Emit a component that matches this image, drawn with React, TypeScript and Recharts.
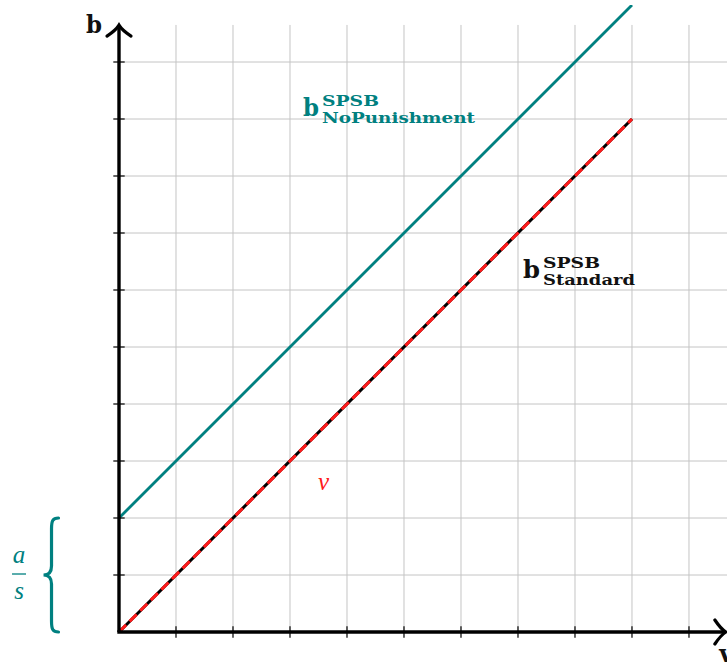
import React from 'react';
import { LineChart, Line, XAxis, YAxis, ReferenceLine, ReferenceDot } from 'recharts';

// ---- data ----
const valuationV = [0, 9];
const bidStandard = [0, 9];
const bidNoPunishment = [2, 11];
const tickValues = [1, 2, 3, 4, 5, 6, 7, 8, 9, 10];
const gapAOverS = [0, 2];

const X_MAX = 10.667;
const Y_MAX = 11;
const GRID_TOP = 10.65;
const AXIS_END = 10.63;

const TEAL = '#008080';
const RED = '#ff1a1a';
const GRID = '#c4c4c4';

const data = valuationV.map((v, i) => ({ v, standard: bidStandard[i], truthful: bidStandard[i], noPunish: bidNoPunishment[i] }));

const boldFont = '"DejaVu Serif", serif';
const italFont = '"Liberation Serif", serif';

const YAxisShape = (p: any) => {
  const { x1, y1, x2, y2 } = p;
  return (
    <g>
      <line x1={x1} y1={y1} x2={x2} y2={y2} stroke="#000" strokeWidth={3.4} />
      <path d={`M ${x2 - 12} ${y2 + 10} Q ${x2 - 3} ${y2 + 4} ${x2} ${y2 - 1} Q ${x2 + 3} ${y2 + 4} ${x2 + 12} ${y2 + 10}`} fill="none" stroke="#000" strokeWidth={3.2} strokeLinecap="round" />
    </g>
  );
};

const XAxisShape = (p: any) => {
  const { x1, y1, x2, y2 } = p;
  return (
    <g>
      <line x1={x1 - 1.7} y1={y1} x2={x2} y2={y2} stroke="#000" strokeWidth={3.4} />
      <path d={`M ${x2 - 10} ${y2 - 12} Q ${x2 - 4} ${y2 - 3} ${x2 + 1} ${y2} Q ${x2 - 4} ${y2 + 3} ${x2 - 10} ${y2 + 12}`} fill="none" stroke="#000" strokeWidth={3.2} strokeLinecap="round" />
    </g>
  );
};

const BraceShape = (p: any) => {
  const { x1, y1, y2 } = p;
  const x = x1;
  const top = Math.min(y1, y2);
  const bot = Math.max(y1, y2);
  const mid = (top + bot) / 2;
  const d = `M ${x + 7} ${top} C ${x + 1} ${top}, ${x} ${top + 3}, ${x} ${top + 11} L ${x} ${mid - 9} C ${x} ${mid - 3}, ${x - 3} ${mid}, ${x - 8} ${mid} C ${x - 3} ${mid}, ${x} ${mid + 3}, ${x} ${mid + 9} L ${x} ${bot - 11} C ${x} ${bot - 3}, ${x + 1} ${bot}, ${x + 7} ${bot}`;
  return <path d={d} fill="none" stroke={TEAL} strokeWidth={3.2} strokeLinecap="round" />;
};

const NoPunishLabel = (p: any) => {
  const { cx, cy } = p;
  return (
    <g fontFamily={boldFont} fontWeight="bold" fill={TEAL}>
      <text x={cx} y={cy} fontSize={24} textLength={16} lengthAdjust="spacingAndGlyphs">b</text>
      <text x={cx + 19} y={cy - 10} fontSize={15} textLength={57} lengthAdjust="spacingAndGlyphs">SPSB</text>
      <text x={cx + 19} y={cy + 7} fontSize={15} textLength={153} lengthAdjust="spacingAndGlyphs">NoPunishment</text>
    </g>
  );
};

const StandardLabel = (p: any) => {
  const { cx, cy } = p;
  return (
    <g fontFamily={boldFont} fontWeight="bold" fill="#111">
      <text x={cx} y={cy} fontSize={24} textLength={17} lengthAdjust="spacingAndGlyphs">b</text>
      <text x={cx + 20} y={cy - 10} fontSize={15} textLength={57} lengthAdjust="spacingAndGlyphs">SPSB</text>
      <text x={cx + 20} y={cy + 7} fontSize={15} textLength={92} lengthAdjust="spacingAndGlyphs">Standard</text>
    </g>
  );
};

const TextAt = (txt: string, opts: any) => (p: any) => (
  <text x={p.cx} y={p.cy} {...opts}>{txt}</text>
);

const FracLabel = (p: any) => {
  const { cx, cy } = p;
  return (
    <g fontFamily={italFont} fontStyle="italic" fill={TEAL} fontSize={25} textAnchor="middle">
      <text x={cx} y={cy - 11}>a</text>
      <line x1={cx - 7} y1={cy} x2={cx + 7} y2={cy} stroke={TEAL} strokeWidth={1.3} />
      <text x={cx} y={cy + 25}>s</text>
    </g>
  );
};

export default function App() {
  return (
    <div style={{ position: 'absolute', left: 0, top: 0, width: 727, height: 663, background: '#fff' }}>
      <LineChart width={727} height={663} data={data} margin={{ top: 5, right: 0, bottom: 31, left: 119 }}>
        <XAxis dataKey="v" type="number" domain={[0, X_MAX]} hide allowDataOverflow />
        <YAxis type="number" domain={[0, Y_MAX]} hide allowDataOverflow />
        {tickValues.map((k) => (
          <ReferenceLine key={'gv' + k} segment={[{ x: k, y: 0 }, { x: k, y: GRID_TOP }]} stroke={GRID} strokeWidth={1} ifOverflow="visible" />
        ))}
        {tickValues.map((k) => (
          <ReferenceLine key={'gh' + k} segment={[{ x: 0, y: k }, { x: X_MAX, y: k }]} stroke={GRID} strokeWidth={1} ifOverflow="visible" />
        ))}
        <Line dataKey="noPunish" type="linear" stroke={TEAL} strokeWidth={2.8} dot={false} isAnimationActive={false} />
        <Line dataKey="standard" type="linear" stroke="#000" strokeWidth={3} dot={false} isAnimationActive={false} />
        <Line dataKey="truthful" type="linear" stroke={RED} strokeWidth={3} strokeDasharray="10 5" dot={false} isAnimationActive={false} />
        {tickValues.map((k) => (
          <ReferenceLine key={'tx' + k} segment={[{ x: k, y: -0.1 }, { x: k, y: 0.1 }]} stroke="#222" strokeWidth={1.4} ifOverflow="visible" />
        ))}
        {tickValues.map((k) => (
          <ReferenceLine key={'ty' + k} segment={[{ x: -0.1, y: k }, { x: 0.1, y: k }]} stroke="#222" strokeWidth={1.4} ifOverflow="visible" />
        ))}
        <ReferenceLine segment={[{ x: 0, y: 0 }, { x: 0, y: AXIS_END }]} shape={YAxisShape} ifOverflow="visible" />
        <ReferenceLine segment={[{ x: 0, y: 0 }, { x: AXIS_END, y: 0 }]} shape={XAxisShape} ifOverflow="visible" />
        <ReferenceLine segment={[{ x: -1.184, y: gapAOverS[0] }, { x: -1.184, y: gapAOverS[1] }]} shape={BraceShape} ifOverflow="visible" />
        <ReferenceDot x={-1.754} y={1.0175} r={0} shape={FracLabel} ifOverflow="visible" />
        <ReferenceDot x={3.228} y={9.053} r={0} shape={NoPunishLabel} ifOverflow="visible" />
        <ReferenceDot x={7.088} y={6.21} r={0} shape={StandardLabel} ifOverflow="visible" />
        <ReferenceDot x={3.49} y={2.5} r={0} shape={TextAt('v', { fontFamily: italFont, fontStyle: 'italic', fontSize: 25, fill: RED })} ifOverflow="visible" />
        <ReferenceDot x={-0.58} y={10.51} r={0} shape={TextAt('b', { fontFamily: boldFont, fontWeight: 'bold', fontSize: 24, fill: '#111', textLength: 16, lengthAdjust: 'spacingAndGlyphs' })} ifOverflow="visible" />
        <ReferenceDot x={10.53} y={-0.53} r={0} shape={TextAt('v', { fontFamily: boldFont, fontWeight: 'bold', fontSize: 24, fill: '#111' })} ifOverflow="visible" />
      </LineChart>
    </div>
  );
}
